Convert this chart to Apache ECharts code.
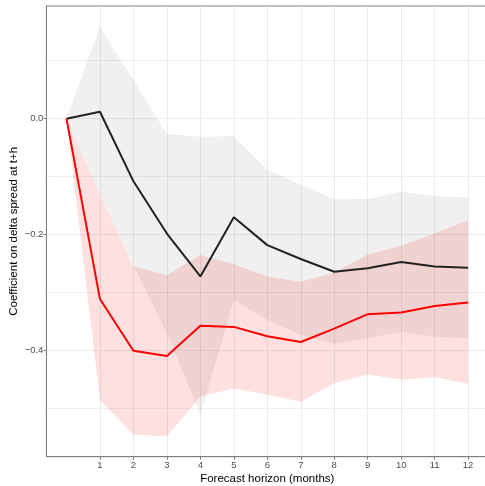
<!DOCTYPE html>
<html>
<head>
<meta charset="utf-8">
<script src="https://cdn.jsdelivr.net/npm/echarts@6/dist/echarts.min.js"></script>
<style>html,body{margin:0;padding:0;background:#fff}#c{width:485px;height:486px}</style>
</head>
<body>
<div id="c"></div>
<script>
// Forecast horizons (months)
var horizons = [0, 1, 2, 3, 4, 5, 6, 7, 8, 9, 10, 11, 12];
// Black series: point estimate and confidence band
var blackCoef  = [0, 0.012, -0.108, -0.198, -0.272, -0.170, -0.218, -0.242, -0.264, -0.258, -0.247, -0.255, -0.257];
var grayUpper  = [0, 0.159, 0.066, -0.026, -0.031, -0.030, -0.088, -0.114, -0.139, -0.138, -0.126, -0.133, -0.136];
var grayLower  = [0, -0.130, -0.253, -0.370, -0.511, -0.313, -0.347, -0.373, -0.388, -0.378, -0.368, -0.376, -0.379];
// Red series: point estimate and confidence band
var redCoef    = [0, -0.311, -0.400, -0.409, -0.357, -0.359, -0.375, -0.385, -0.362, -0.337, -0.334, -0.323, -0.317];
var redUpper   = [0, -0.130, -0.254, -0.270, -0.235, -0.251, -0.272, -0.281, -0.265, -0.234, -0.219, -0.198, -0.175];
var redLower   = [0, -0.485, -0.545, -0.548, -0.479, -0.465, -0.476, -0.488, -0.456, -0.441, -0.450, -0.446, -0.457];
// Tick values
var xTicks = [1, 2, 3, 4, 5, 6, 7, 8, 9, 10, 11, 12];
var yMajorTicks = [0, -0.2, -0.4];
var yMinorTicks = [0.1, -0.1, -0.3, -0.5];

var FONT = 'Liberation Sans';
function pairs(arr) { return horizons.map(function (h, i) { return [h, arr[i]]; }); }
function bandRows(lo, up) { return horizons.map(function (h, i) { return [h, lo[i], up[i]]; }); }
function fmtY(v) { var s = v.toFixed(1); if (Math.abs(v) < 1e-9) s = '0.0'; return s.replace('-', '\u2212'); }

function bandSeries(lo, up, color) {
  var rows = bandRows(lo, up);
  return {
    type: 'custom', silent: true, data: rows, encode: { x: 0, y: [1, 2] },
    renderItem: function (params, api) {
      if (params.dataIndex !== 0) return null;
      var pts = [];
      for (var i = 0; i < rows.length; i++) pts.push(api.coord([rows[i][0], rows[i][2]]));
      for (var j = rows.length - 1; j >= 0; j--) pts.push(api.coord([rows[j][0], rows[j][1]]));
      return { type: 'polygon', shape: { points: pts }, style: { fill: color, stroke: null } };
    }
  };
}

var yMin = -0.5828, yMax = 0.1943;
var chart = echarts.init(document.getElementById('c'), null, { renderer: 'canvas' });
chart.setOption({
  animation: false,
  backgroundColor: '#ffffff',
  grid: { left: 46.4, top: 6, right: -3.2, bottom: 29.3, outerBoundsMode: 'none', containLabel: false,
          show: true, borderColor: '#7f7f7f', borderWidth: 1, backgroundColor: 'transparent' },
  xAxis: {
    type: 'value', min: -0.6, max: 12.6,
    name: 'Forecast horizon (months)', nameLocation: 'middle', nameGap: 16, nameMoveOverlap: false,
    nameTextStyle: { fontFamily: FONT, fontSize: 11.5, color: '#000' },
    axisLine: { onZero: false, lineStyle: { color: '#7f7f7f', width: 1 } },
    axisTick: { customValues: xTicks, length: 3, lineStyle: { color: '#7f7f7f' } },
    axisLabel: { customValues: xTicks, fontFamily: FONT, fontSize: 9.5, color: '#4d4d4d', margin: 4 },
    splitLine: { show: true, lineStyle: { color: '#ebebeb', width: 1 } }
  },
  yAxis: [{
    type: 'value', min: yMin, max: yMax,
    name: 'Coefficient on delta spread at t+h', nameLocation: 'middle', nameGap: 27, nameRotate: 90, nameMoveOverlap: false,
    nameTextStyle: { fontFamily: FONT, fontSize: 11.5, color: '#000' },
    axisLine: { onZero: false, lineStyle: { color: '#7f7f7f', width: 1 } },
    axisTick: { customValues: yMajorTicks, length: 3, lineStyle: { color: '#7f7f7f' } },
    axisLabel: { customValues: yMajorTicks, fontFamily: FONT, fontSize: 9.5, color: '#4d4d4d', margin: 3, formatter: fmtY },
    splitLine: { show: true, lineStyle: { color: '#ebebeb', width: 1 } }
  }, {
    type: 'value', min: yMin, max: yMax, position: 'left',
    axisLine: { show: false, onZero: false },
    axisTick: { show: false, customValues: yMinorTicks },
    axisLabel: { show: false, customValues: yMinorTicks },
    splitLine: { show: true, lineStyle: { color: '#efefef', width: 1 } }
  }],
  series: [
    bandSeries(grayLower, grayUpper, 'rgba(0,0,0,0.06)'),
    bandSeries(redLower, redUpper, 'rgba(255,0,0,0.12)'),
    { type: 'line', data: pairs(blackCoef), symbol: 'none', silent: true, lineStyle: { color: '#222222', width: 2 } },
    { type: 'line', data: pairs(redCoef), symbol: 'none', silent: true, lineStyle: { color: '#ff0000', width: 2 } }
  ]
});
</script>
</body>
</html>
